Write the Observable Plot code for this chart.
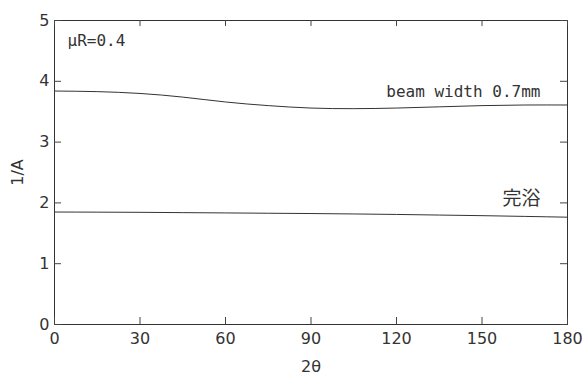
<!DOCTYPE html>
<html>
<head>
<meta charset="utf-8">
<script src="https://cdn.jsdelivr.net/npm/d3@7"></script>
<script src="https://cdn.jsdelivr.net/npm/@observablehq/plot@0.6"></script>
<style>
  html, body { margin: 0; padding: 0; background: #fff; }
  #chart svg { display: block; }
</style>
</head>
<body>
<div id="chart"></div>
<script>
// 2θ sample positions
const twoTheta = [0, 15, 30, 45, 60, 75, 90, 105, 120, 135, 150, 165, 180];
// 1/A for beam width 0.7mm
const beamValues = [3.84, 3.83, 3.80, 3.74, 3.66, 3.60, 3.56, 3.55, 3.56, 3.58, 3.60, 3.61, 3.61];
// 1/A for 完浴 (full bath)
const bathValues = [1.85, 1.848, 1.845, 1.84, 1.835, 1.83, 1.825, 1.818, 1.81, 1.80, 1.79, 1.778, 1.765];

const xTicks = [0, 30, 60, 90, 120, 150, 180];
const yTicks = [0, 1, 2, 3, 4, 5];

const seriesLabels = [
  {x: 170.5, y: 3.745, text: "beam width 0.7mm"},
  {x: 170.5, y: 2.06, text: "完浴"}
];
const noteText = "μR=0.4";

const beam = twoTheta.map((t, i) => ({t, v: beamValues[i]}));
const bath = twoTheta.map((t, i) => ({t, v: bathValues[i]}));

const W = 582, H = 375;
const mL = 54, mR = 15, mT = 20, mB = 51;
const frameW = W - mL - mR, frameH = H - mT - mB;
const xDom = [0, 180], yDom = [0, 5];
// tick lengths (pixels) converted to data units
const tx = 7 * (xDom[1] - xDom[0]) / frameW;
const ty = 7 * (yDom[1] - yDom[0]) / frameH;
const ink = "#333";
const tickInk = "#444";

const chart = Plot.plot({
  width: W,
  height: H,
  marginLeft: mL,
  marginRight: mR,
  marginTop: mT,
  marginBottom: mB,
  style: {fontFamily: "DejaVu Sans, sans-serif", fontSize: "16px", color: ink, background: "#fff"},
  x: {domain: xDom},
  y: {domain: yDom},
  marks: [
    // tick labels and axis titles
    Plot.axisX(xTicks, {anchor: "bottom", tickSize: 0, tickPadding: 8, tickFormat: d3.format("d"),
      label: "2θ", labelAnchor: "center", labelOffset: 47, labelArrow: "none", fill: ink}),
    Plot.axisY(yTicks, {anchor: "left", tickSize: 0, tickPadding: 5, tickFormat: d3.format("d"),
      label: "1/A", labelAnchor: "center", labelOffset: 43, labelArrow: "none", fill: ink}),
    Plot.frame({stroke: ink, strokeWidth: 1}),
    // inward tick marks on all four sides
    Plot.ruleX(xTicks, {x: d => d, y1: yDom[0], y2: yDom[0] + ty, stroke: tickInk}),
    Plot.ruleX(xTicks, {x: d => d, y1: yDom[1] - ty * 0.85, y2: yDom[1], stroke: tickInk}),
    Plot.ruleY(yTicks, {y: d => d, x1: xDom[0], x2: xDom[0] + tx, stroke: tickInk}),
    Plot.ruleY(yTicks, {y: d => d, x1: xDom[1] - tx, x2: xDom[1], stroke: tickInk}),
    Plot.line(beam, {x: "t", y: "v", curve: "natural", stroke: ink, strokeWidth: 1}),
    Plot.line(bath, {x: "t", y: "v", curve: "natural", stroke: ink, strokeWidth: 1}),
    Plot.text([seriesLabels[0]], {x: "x", y: "y", text: "text", textAnchor: "end", lineAnchor: "bottom",
      fontFamily: "DejaVu Sans Mono", fontSize: 16, fill: ink}),
    Plot.text([seriesLabels[1]], {x: "x", y: "y", text: "text", textAnchor: "end", lineAnchor: "middle",
      fontFamily: "Noto Sans CJK JP", fontSize: 19, fill: ink}),
    Plot.text([noteText], {frameAnchor: "top-left", dx: 13, dy: 14, textAnchor: "start", lineAnchor: "top",
      fontFamily: "DejaVu Sans Mono", fontSize: 16, fill: ink})
  ]
});
document.getElementById("chart").appendChild(chart);
</script>
</body>
</html>
